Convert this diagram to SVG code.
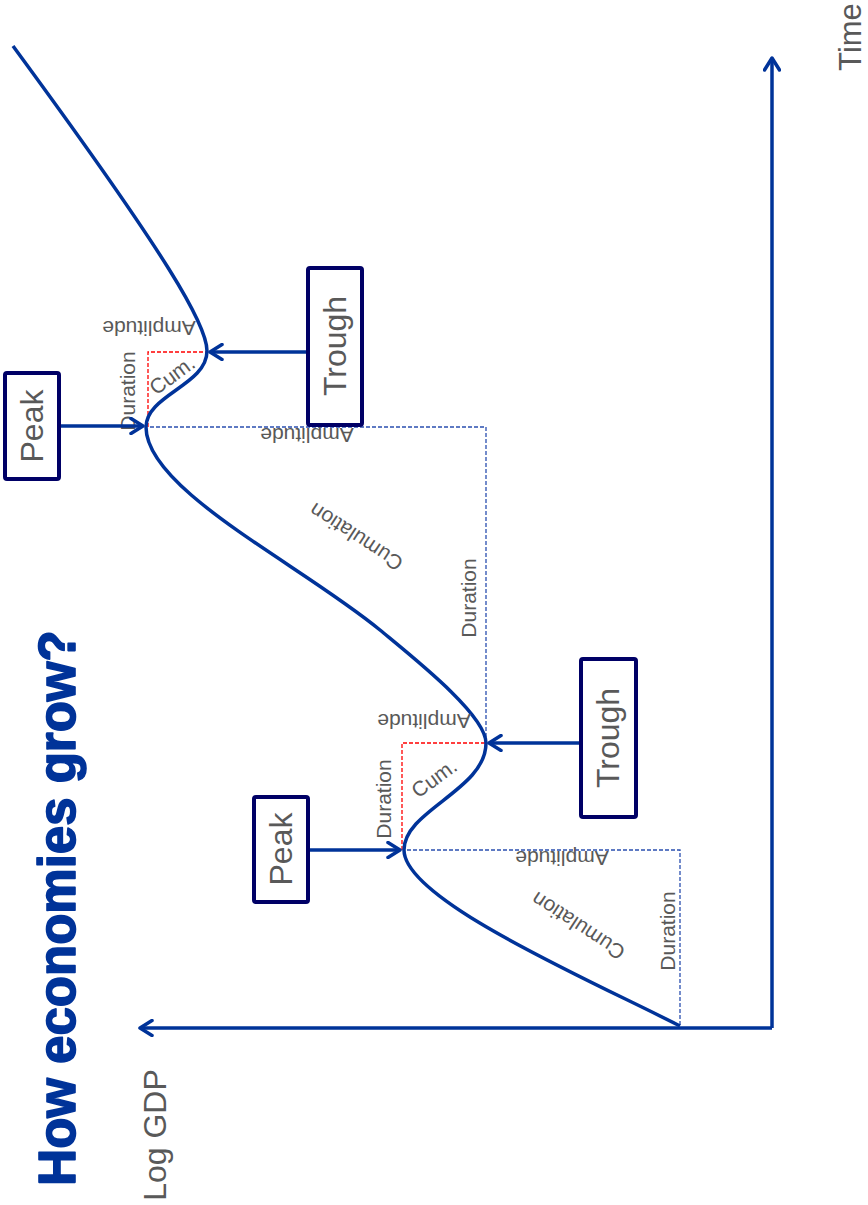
<svg xmlns="http://www.w3.org/2000/svg" width="868" height="1205" viewBox="0 0 868 1205">
<style>
.lbl{font-family:"Liberation Sans",Arial,sans-serif;fill:#595959;text-anchor:middle;dominant-baseline:central}
.s{font-size:21px}
.b{font-size:32px}
.box{fill:#fff;stroke:#000066;stroke-width:4}
.ar{fill:none;stroke:#003399;stroke-width:3.5;marker-end:url(#ah)}
.axis{fill:none;stroke:#003399;stroke-width:3.5;marker-end:url(#ah)}
.dblue{fill:none;stroke:#2a4fb0;stroke-width:1.3;stroke-dasharray:4 2}
.dred{fill:none;stroke:#ff0000;stroke-width:1.3;stroke-dasharray:4 2}
</style>
<defs>
<marker id="ah" markerUnits="userSpaceOnUse" viewBox="0 0 16 18" markerWidth="16" markerHeight="18" refX="14" refY="9" orient="auto">
<path d="M2,1.5 L14,9 L2,16.5" fill="none" stroke="#003399" stroke-width="3.5" stroke-linecap="round" stroke-linejoin="round"/>
</marker>
</defs>
<rect width="868" height="1205" fill="#fff"/>
<g id="title">
<text transform="translate(57,908) rotate(-90)" style="font-family:'Liberation Sans',Arial,sans-serif;font-weight:bold;font-size:51px;fill:#003399;stroke:#003399;stroke-width:1.6;stroke-linejoin:round;text-anchor:middle;dominant-baseline:central">How economies grow?</text>
</g>
<g id="axes">
<path class="axis" d="M772,1028 L772,58"/>
<path class="axis" d="M772,1028 L140,1028"/>
<text class="lbl b" transform="translate(155,1135) rotate(-90)">Log GDP</text>
<text class="lbl" style="font-size:31px" transform="translate(850,37) rotate(-90)">Time</text>
</g>
<g id="guides">
<path class="dblue" d="M407,850 L680,850 L680,1026"/>
<path class="dblue" d="M150,427 L486,427 L486,743"/>
<path class="dred" d="M402,850 L402,743 L487,743"/>
<path class="dred" d="M148,427 L148,352 L207,352"/>
</g>
<g id="curve">
<path d="M680,1026 C590,980 404,900 404,850 C404,810 486,790 486,743 C486,715 415,659 380,630 C300,564 146,490 146,427 C146,395 207,385 207,351 C207,325 170,260 13,46" fill="none" stroke="#003399" stroke-width="3.5"/>
</g>
<g id="labels">
<text class="lbl s" transform="translate(562,858) rotate(180)">Amplitude</text>
<text class="lbl s" transform="translate(578,926) rotate(213)">Cumulation</text>
<text class="lbl s" transform="translate(667,931) rotate(-90)">Duration</text>
<text class="lbl s" transform="translate(383,799) rotate(-90)">Duration</text>
<text class="lbl s" transform="translate(434,778) rotate(-36)">Cum.</text>
<text class="lbl s" transform="translate(424,721) rotate(180)">Amplitude</text>
<text class="lbl s" transform="translate(468,598) rotate(-90)">Duration</text>
<text class="lbl s" transform="translate(356,537) rotate(213)">Cumulation</text>
<text class="lbl s" transform="translate(307,435) rotate(180)">Amplitude</text>
<text class="lbl s" transform="translate(149,328) rotate(180)">Amplitude</text>
<text class="lbl s" transform="translate(127,391) rotate(-90)">Duration</text>
<text class="lbl s" transform="translate(172,375) rotate(-36)">Cum.</text>
</g>
<g id="connectors">
<path class="ar" d="M59,426 L143,426"/>
<path class="ar" d="M307,352 L210,352"/>
<path class="ar" d="M308,850 L400,850"/>
<path class="ar" d="M580,743 L489,743"/>
</g>
<g id="peak1">
<rect class="box" x="5" y="373" width="54" height="106" rx="2"/>
<text class="lbl b" transform="translate(32,426) rotate(-90)">Peak</text>
</g>
<g id="trough1">
<rect class="box" x="308" y="268" width="54" height="157" rx="2"/>
<text class="lbl b" transform="translate(335,346) rotate(-90)">Trough</text>
</g>
<g id="peak2">
<rect class="box" x="254" y="797" width="54" height="105" rx="2"/>
<text class="lbl b" transform="translate(281,849) rotate(-90)">Peak</text>
</g>
<g id="trough2">
<rect class="box" x="581" y="659" width="55" height="158" rx="2"/>
<text class="lbl b" transform="translate(608,738) rotate(-90)">Trough</text>
</g>
</svg>
